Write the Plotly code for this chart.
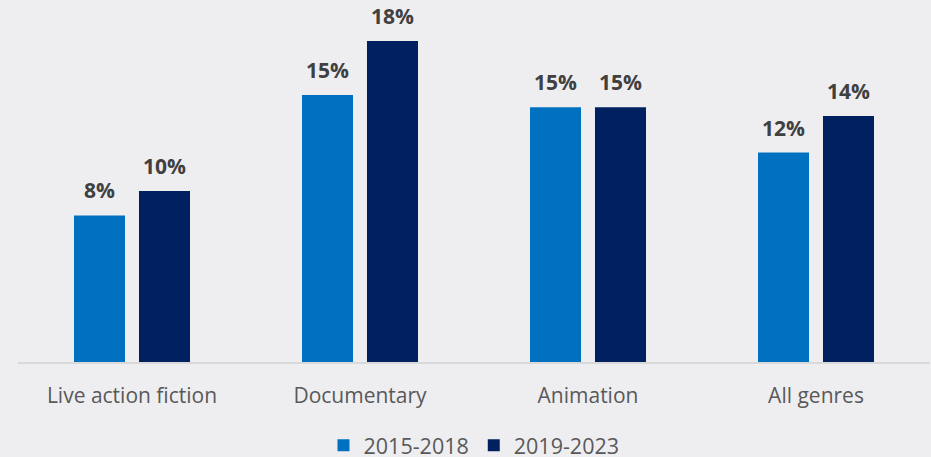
import plotly.graph_objects as go

categories = ["Live action fiction", "Documentary", "Animation", "All genres"]
series_names = ["2015-2018", "2019-2023"]
values_2015_2018 = [8.4, 15.3, 14.6, 12.0]
values_2019_2023 = [9.8, 18.4, 14.6, 14.1]
colors = ["#0070C0", "#002060"]

BG = "#EEEEF1"
series = [values_2015_2018, values_2019_2023]

fig = go.Figure()
for name, vals, col in zip(series_names, series, colors):
    fig.add_trace(go.Bar(
        x=categories, y=vals, name=name,
        marker=dict(color=col, line=dict(width=0)),
    ))

# value labels above bars
offsets = [-32.5, 32.5]
for vals, off in zip(series, offsets):
    for c, v in zip(categories, vals):
        fig.add_annotation(
            x=c, y=v, xref="x", yref="y", text=f"<b>{v:.0f}%</b>",
            showarrow=False, xshift=off, yanchor="bottom", yshift=9,
            font=dict(family="Open Sans", size=21, color="#404040"),
        )

fig.update_layout(
    width=931, height=457,
    paper_bgcolor=BG, plot_bgcolor=BG,
    margin=dict(l=18, r=1, t=13, b=95, autoexpand=False),
    bargap=0.43, bargroupgap=0.215,
    font=dict(family="Open Sans", color="#595959", size=21),
    showlegend=True,
    legend=dict(orientation="h", x=0.5, xanchor="center", y=-0.18, yanchor="top",
                font=dict(size=21.5, color="#595959"), itemwidth=30,
                bgcolor="rgba(0,0,0,0)", borderwidth=0),
    xaxis=dict(showline=True, linecolor="#D9D9D9", linewidth=1.5,
               showgrid=False, ticks="", ticklabelstandoff=14,
               tickfont=dict(size=21, color="#595959")),
    yaxis=dict(range=[0, 20], visible=False, showgrid=False, zeroline=False),
)

fig.write_html("out.html", config={"displayModeBar": False},
               post_script="document.body.style.margin='0';document.body.style.background='" + BG + "';")
